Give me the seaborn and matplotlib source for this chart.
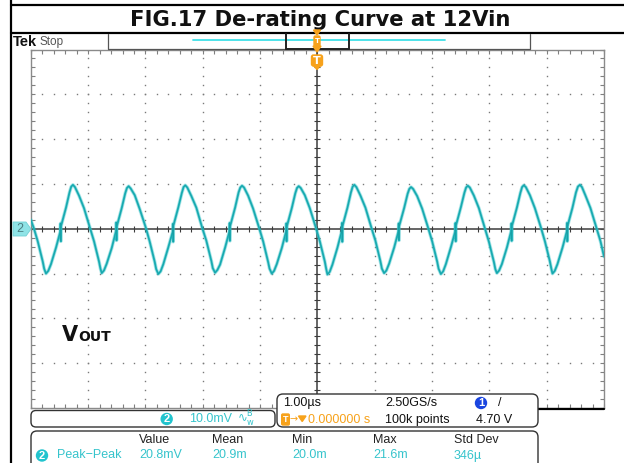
import numpy as np
import pandas as pd
import matplotlib
matplotlib.use("Agg")
import matplotlib.pyplot as plt
import seaborn as sns
from matplotlib.patches import FancyBboxPatch, Polygon, Circle

# ---------------- data ----------------
title = "FIG.17 De-rating Curve at 12Vin"
time_us = [
    -5.000, -4.949, -4.879, -4.792, -4.767,
    -4.735, -4.695, -4.648, -4.560, -4.485, -4.480, -4.476, -4.472, -4.386, -4.325, -4.295, -4.265, -4.230, -4.159, -4.072, -3.967, -3.897, -3.810, -3.785,
    -3.763, -3.723, -3.676, -3.588, -3.513, -3.508, -3.504, -3.500, -3.414, -3.353, -3.323, -3.293, -3.258, -3.187, -3.100, -2.995, -2.925, -2.838, -2.813,
    -2.775, -2.735, -2.688, -2.600, -2.525, -2.520, -2.516, -2.512, -2.426, -2.365, -2.335, -2.305, -2.270, -2.199, -2.112, -2.007, -1.937, -1.850, -1.825,
    -1.785, -1.745, -1.698, -1.610, -1.535, -1.530, -1.526, -1.522, -1.436, -1.375, -1.345, -1.315, -1.280, -1.209, -1.122, -1.017, -0.947, -0.860, -0.835,
    -0.796, -0.756, -0.709, -0.621, -0.546, -0.541, -0.537, -0.533, -0.447, -0.386, -0.356, -0.326, -0.291, -0.220, -0.133, -0.028, 0.042, 0.129, 0.154,
    0.175, 0.215, 0.262, 0.350, 0.425, 0.430, 0.434, 0.438, 0.524, 0.585, 0.615, 0.645, 0.680, 0.751, 0.838, 0.943, 1.013, 1.100, 1.125,
    1.164, 1.204, 1.251, 1.339, 1.414, 1.419, 1.423, 1.427, 1.513, 1.574, 1.604, 1.634, 1.669, 1.740, 1.827, 1.932, 2.002, 2.089, 2.114,
    2.154, 2.194, 2.241, 2.329, 2.404, 2.409, 2.413, 2.417, 2.503, 2.564, 2.594, 2.624, 2.659, 2.730, 2.817, 2.922, 2.992, 3.079, 3.104,
    3.131, 3.171, 3.218, 3.306, 3.381, 3.386, 3.390, 3.394, 3.480, 3.541, 3.571, 3.601, 3.636, 3.707, 3.794, 3.899, 3.969, 4.056, 4.081,
    4.101, 4.141, 4.188, 4.276, 4.351, 4.356, 4.360, 4.364, 4.450, 4.511, 4.545, 4.580, 4.615, 4.677, 4.764, 4.869, 4.939, 5.000,
]
vout_mv = [
    2.0, 0.2, -2.8, -7.3, -8.9,
    -10.0, -9.4, -7.9, -4.2, -0.6, 1.2, -2.8, 0.6, 4.7, 8.1, 9.4, 9.8, 9.3, 7.4, 4.6, 0.2, -2.8, -7.3, -8.9,
    -9.9, -9.3, -7.8, -4.3, -0.5, 1.4, -2.6, 0.5, 4.6, 7.9, 9.1, 9.5, 9.0, 7.5, 4.4, 0.3, -2.9, -7.4, -9.0,
    -10.1, -9.5, -7.9, -4.1, -0.7, 1.1, -2.9, 0.7, 4.8, 8.0, 9.3, 9.7, 9.2, 7.3, 4.7, 0.1, -2.7, -7.2, -8.8,
    -9.8, -9.2, -8.0, -4.2, -0.6, 1.3, -2.7, 0.6, 4.7, 8.1, 9.2, 9.6, 9.2, 7.4, 4.5, 0.2, -2.8, -7.4, -8.9,
    -10.0, -9.4, -7.9, -4.3, -0.6, 1.2, -2.8, 0.5, 4.6, 7.9, 9.1, 9.5, 9.1, 7.5, 4.6, 0.3, -2.8, -7.3, -9.0,
    -10.2, -9.6, -8.0, -4.2, -0.5, 1.3, -2.9, 0.6, 4.7, 8.1, 9.4, 9.8, 9.3, 7.4, 4.7, 0.2, -2.7, -7.3, -8.9,
    -9.9, -9.3, -7.8, -4.2, -0.6, 1.2, -2.6, 0.6, 4.6, 7.8, 8.9, 9.3, 8.9, 7.3, 4.5, 0.2, -2.8, -7.3, -8.9,
    -10.1, -9.5, -7.9, -4.1, -0.6, 1.3, -2.8, 0.7, 4.8, 8.0, 9.2, 9.6, 9.2, 7.4, 4.6, 0.1, -2.9, -7.4, -9.0,
    -9.9, -9.3, -7.9, -4.2, -0.5, 1.2, -2.7, 0.6, 4.7, 8.0, 9.3, 9.7, 9.3, 7.5, 4.6, 0.3, -2.8, -7.3, -8.9,
    -10.0, -9.4, -7.9, -4.2, -0.6, 1.3, -2.8, 0.6, 4.7, 8.1, 9.4, 9.8, 9.3, 7.4, 4.6, 0.2, -2.8, -6.2,
]
ch_scale = "10.0mV"
timebase = "1.00\u00b5s"
sample_rate = "2.50GS/s"
record_len = "100k points"
trig_pos = "0.000000 s"
trig_level = "4.70 V"
meas_headers = ["Value", "Mean", "Min", "Max", "Std Dev"]
meas_values = ["20.8mV", "20.9m", "20.0m", "21.6m", "346\u00b5"]
meas_name = "Peak\u2212Peak"

# ---------------- figure ----------------
sns.set_theme(style="white")
plt.rcParams['font.family'] = ['DejaVu Sans']

W, H, DPI = 624, 463, 100
fig = plt.figure(figsize=(W / DPI, H / DPI), dpi=DPI)
fig.patch.set_facecolor("white")

L, R, T, B = 30.8, 604.0, 49.5, 408.0
ax = fig.add_axes([L / W, 1 - B / H, (R - L) / W, (B - T) / H])
ax.set_xlim(-5, 5)
ax.set_ylim(-40, 40)
ax.set_facecolor("white")

TRACE = "#2bbcc2"
CYAN_TXT = "#36c4cc"
ORANGE = "#f7a21b"
GRID = "#7a7a7a"

# graticule dots
for xv in range(-5, 6):
    if xv == 0:
        continue
    ys = np.arange(-40, 40.1, 2)
    ax.plot([xv] * len(ys), ys, ls="none", marker="s", ms=1.0, mew=0, color=GRID, zorder=1)
for yv in range(-40, 41, 10):
    if yv == 0:
        continue
    xs = np.arange(-5, 5.01, 0.2)
    ax.plot(xs, [yv] * len(xs), ls="none", marker="s", ms=1.0, mew=0, color=GRID, zorder=1)

# center crosshair with minor ticks
ax.axhline(0, color="#3c3c3c", lw=1.1, zorder=2)
ax.axvline(0, color="#3c3c3c", lw=1.1, zorder=2)
xs = np.arange(-5, 5.01, 0.2)
ax.plot(xs, [0] * len(xs), ls="none", marker="|", ms=4, mew=0.8, color="#3c3c3c", zorder=2)
ys = np.arange(-40, 40.1, 2)
ax.plot([0] * len(ys), ys, ls="none", marker="_", ms=4, mew=0.8, color="#3c3c3c", zorder=2)

# border ticks
ax.set_xticks(np.arange(-5, 5.01, 0.2))
ax.set_yticks(np.arange(-40, 40.1, 2))
ax.tick_params(direction="in", length=3, width=0.8, color="#808080",
               top=True, bottom=True, left=True, right=True,
               labelbottom=False, labelleft=False)
for s in ax.spines.values():
    s.set_color("#8a8a8a")
    s.set_linewidth(1.0)

# waveform
df = pd.DataFrame({"t": time_us, "v": vout_mv})
sns.lineplot(data=df, x="t", y="v", sort=False, estimator=None, ax=ax,
             color=TRACE, lw=2.6, alpha=0.35, zorder=4)
sns.lineplot(data=df, x="t", y="v", sort=False, estimator=None, ax=ax,
             color=TRACE, lw=1.5, zorder=5)
sns.lineplot(data=df, x="t", y="v", sort=False, estimator=None, ax=ax,
             color="#129aa0", lw=0.6, alpha=0.8, zorder=6)
ax.set_xlabel("")
ax.set_ylabel("")

# ---------------- overlay in pixel coordinates ----------------
ov = fig.add_axes([0, 0, 1, 1], zorder=10)
ov.set_xlim(0, W)
ov.set_ylim(H, 0)
ov.axis("off")
ov.patch.set_alpha(0)

K = "#000000"
# frame lines
ov.plot([11, 11], [0, H], color=K, lw=1.6, solid_capstyle="butt")
ov.plot([11, W], [5, 5], color=K, lw=1.6)
ov.plot([11, W], [33, 33], color=K, lw=1.6)

# title
ov.text(320, 19.5, title, ha="center", va="center", fontsize=15.2,
        fontweight="bold", color="#111111", family="DejaVu Sans")

# Tek Stop
ov.text(13, 42, "Tek", ha="left", va="center", fontsize=10.5, fontweight="bold",
        color="#111111", family="Liberation Sans")
ov.text(40, 41.5, "Stop", ha="left", va="center", fontsize=8.5,
        color="#555555", family="Liberation Sans")

# record bar
ov.plot([108, 108, 530, 530], [34, 48.5, 48.5, 34], color="#555555", lw=0.9)
ov.plot([193, 445], [40, 40], color="#40e0e8", lw=1.3)
ov.plot([286, 286], [34, 48.5], color="#222222", lw=1.4)
ov.plot([349, 349], [34, 48.5], color="#222222", lw=1.4)
ov.plot([286, 349], [48.5, 48.5], color="#222222", lw=1.4)

# trigger markers
ov.add_patch(Polygon([[313.5, 30], [320.5, 30], [317, 35]], closed=True, color=ORANGE, zorder=12))
ov.add_patch(FancyBboxPatch((314, 36), 6, 10, boxstyle="round,pad=0,rounding_size=1.5",
                            fc=ORANGE, ec=ORANGE, zorder=12))
ov.text(317, 41, "T", ha="center", va="center", fontsize=5, color="white",
        fontweight="bold", zorder=13)
ov.add_patch(Polygon([[313, 46], [321, 46], [317, 52]], closed=True, color=ORANGE, zorder=12))
ov.add_patch(FancyBboxPatch((311.5, 55), 11, 11, boxstyle="round,pad=0,rounding_size=2",
                            fc=ORANGE, ec=ORANGE, zorder=12))
ov.add_patch(Polygon([[313.5, 65.5], [320.5, 65.5], [317, 69.5]], closed=True, color=ORANGE, zorder=12))
ov.text(317, 60.8, "T", ha="center", va="center", fontsize=8, color="white",
        fontweight="bold", zorder=13)

# channel 2 ground marker
ov.add_patch(Polygon([[13, 222], [26, 222], [31, 229], [26, 236], [13, 236]], closed=True,
                     fc="#8fe3e6", ec="#6fd0d4", lw=0.6, zorder=12))
ov.text(20, 229.5, "2", ha="center", va="center", fontsize=9, color="#4b7f82", zorder=13,
        family="Liberation Sans")

# VOUT label
ov.text(62, 341, "V", ha="left", va="baseline", fontsize=15, fontweight="bold",
        color="#111111", family="DejaVu Sans")
ov.text(78, 341, "OUT", ha="left", va="baseline", fontsize=10, fontweight="bold",
        color="#111111", family="DejaVu Sans")

# graticule bottom thick part right of box 2
ov.plot([538, 604], [408.5, 408.5], color=K, lw=1.6)

FONT = "Liberation Sans"
# box 1 : channel scale
ov.add_patch(FancyBboxPatch((31, 410.5), 244, 16.5, boxstyle="round,pad=0,rounding_size=5",
                            fc="white", ec="#333333", lw=1.0, zorder=11))
ov.add_patch(Circle((166.7, 419), 6.2, fc="#22c4ce", ec="none", zorder=12))
ov.text(166.7, 419.3, "2", ha="center", va="center", fontsize=8, color="white",
        fontweight="bold", zorder=13, family=FONT)
ov.text(189, 419, ch_scale, ha="left", va="center", fontsize=9, color=CYAN_TXT,
        zorder=13, family=FONT)
ov.text(237, 419, "\u223f" + r"$^{\mathregular{B}}_{\mathregular{w}}$", ha="left",
        va="center", fontsize=8.5, color=CYAN_TXT, zorder=13, family="DejaVu Sans")

# box 2 : timebase / trigger
ov.add_patch(FancyBboxPatch((277, 394), 261, 33, boxstyle="round,pad=0,rounding_size=6",
                            fc="white", ec="#333333", lw=1.0, zorder=11))
ov.text(283, 403, timebase, ha="left", va="center", fontsize=9, color="#111111",
        zorder=13, family=FONT)
ov.text(385, 403, sample_rate, ha="left", va="center", fontsize=9, color="#111111",
        zorder=13, family=FONT)
ov.add_patch(Circle((481, 403), 6.2, fc="#1a45e0", ec="none", zorder=12))
ov.text(481, 403.3, "1", ha="center", va="center", fontsize=8, color="white",
        fontweight="bold", zorder=13, family=FONT)
ov.text(498, 403, "/", ha="left", va="center", fontsize=9, color="#111111",
        zorder=13, family=FONT)
ov.add_patch(FancyBboxPatch((281.7, 414), 7.6, 11, boxstyle="round,pad=0,rounding_size=1.2",
                            fc=ORANGE, ec=ORANGE, zorder=12))
ov.text(285.5, 419.5, "T", ha="center", va="center", fontsize=6.5, color="white",
        fontweight="bold", zorder=13, family=FONT)
ov.text(290, 419.5, "\u2192", ha="left", va="center", fontsize=7, color=ORANGE,
        zorder=13, family="DejaVu Sans")
ov.add_patch(Polygon([[298.5, 416], [306, 416], [302.2, 421.5]], closed=True, color=ORANGE, zorder=12))
ov.text(307.5, 420, trig_pos, ha="left", va="center", fontsize=9, color=ORANGE,
        zorder=13, family=FONT)
ov.text(385, 420, record_len, ha="left", va="center", fontsize=9, color="#111111",
        zorder=13, family=FONT)
ov.text(476, 420, trig_level, ha="left", va="center", fontsize=9, color="#111111",
        zorder=13, family=FONT)

# box 3 : measurements
ov.add_patch(FancyBboxPatch((31, 431), 507, 45, boxstyle="round,pad=0,rounding_size=6",
                            fc="white", ec="#333333", lw=1.0, zorder=11))
hx = [139, 212, 292, 373, 454]
for x, h_, v_ in zip(hx, meas_headers, meas_values):
    ov.text(x, 440, h_, ha="left", va="center", fontsize=9, color="#222222",
            zorder=13, family=FONT)
    ov.text(x, 455.5, v_, ha="left", va="center", fontsize=9, color=CYAN_TXT,
            zorder=13, family=FONT)
ov.add_patch(Circle((42, 455.5), 6.2, fc="#22c4ce", ec="none", zorder=12))
ov.text(42, 455.8, "2", ha="center", va="center", fontsize=8, color="white",
        fontweight="bold", zorder=13, family=FONT)
ov.text(57, 455.5, meas_name, ha="left", va="center", fontsize=9, color=CYAN_TXT,
        zorder=13, family=FONT)

fig.savefig("out.png", dpi=DPI, facecolor="white")
